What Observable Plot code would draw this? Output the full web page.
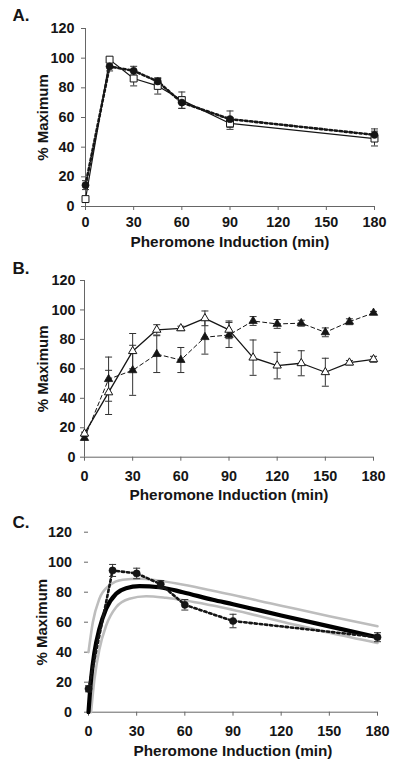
<!DOCTYPE html>
<html><head><meta charset="utf-8">
<script src="https://cdn.jsdelivr.net/npm/d3@7"></script>
<script src="https://cdn.jsdelivr.net/npm/@observablehq/plot@0.6"></script>
<style>
html,body{margin:0;padding:0;background:#fff;}
#chart{width:400px;height:767px;overflow:hidden;}
#chart svg{display:block;}
</style></head><body><div id="chart"></div>
<script>
const xTicks = [0, 30, 60, 90, 120, 150, 180];
const yTicks = [0, 20, 40, 60, 80, 100, 120];
const xTitle = "Pheromone Induction (min)";
const yTitle = "% Maximum";
const panelLabels = ["A.", "B.", "C."];

// Panel A
const timeA = [0, 15, 30, 45, 60, 90, 180];
const squareA = [5, 99, 86.3, 81.3, 71.7, 56, 45.8];
const squareErrA = [0, 0, 5, 5.5, 5.5, 4, 5];
const circleA = [14.4, 94.4, 91.5, 84.3, 70.1, 58.9, 48.3];
const circleErrA = [3, 3, 3, 2, 4, 5.5, 4];

// Panel B
const timeB = [0, 15, 30, 45, 60, 75, 90, 105, 120, 135, 150, 165, 180];
const openTriB = [16, 44, 72, 86.5, 87.5, 94.3, 86.5, 67.6, 62.2, 63.8, 57.7, 64.2, 66.5];
const openTriErrB = [1, 15, 12, 3.5, 1.5, 5, 6, 12, 9, 8.5, 9.5, 1.5, 2];
const filledTriB = [13, 53, 59, 70, 66, 81.5, 83, 92.5, 90.5, 91, 84.8, 92, 98];
const filledTriErrB = [1, 15, 17, 12.5, 8.5, 11.5, 8.5, 3, 3, 2, 3, 2, 1];

// Panel C
const timeC = [0, 15, 30, 45, 60, 90, 180];
const circleC = [15.6, 94.5, 92.5, 85.3, 71.6, 60.8, 50];
const circleErrC = [2, 4, 3.5, 2.5, 3.5, 4.5, 3];
const fitTimeC = [0, 1.6, 3.7, 6.8, 11, 17.2, 23.4, 31.7, 44.2, 58.7, 77.4, 90, 120, 150, 180];
const fitC = [0, 22, 40, 55.6, 69, 79, 82.7, 84, 83.3, 80, 75, 72, 64.5, 57.2, 50];
const upperTimeC = [0, 2.7, 6.8, 13, 21.4, 31.7, 44.2, 77.4, 120, 150, 180];
const upperC = [40, 60, 75.6, 84.5, 88.3, 89, 87.6, 81, 71, 64, 57.3];
const lowerTimeC = [1.6, 3.7, 6.8, 11, 17.2, 25.5, 35.9, 48.3, 77.4, 120, 150, 180];
const lowerC = [0, 22, 42, 57.8, 70, 75.6, 77.3, 76.3, 71.1, 60.5, 53, 46.2];

const rows = (xs, ys, es) => xs.map((x, i) => ({x, y: ys[i], e: es ? es[i] : 0}));
const cap = {draw(ctx) { ctx.moveTo(-3.5, 0); ctx.lineTo(3.5, 0); }};
const INK = "#151515";
const FONT = 'Arial, "Liberation Sans", sans-serif';
const TICKFONT = 14.4;

function errorMarks(data) {
  const d = data.filter(r => r.e > 0);
  return [
    Plot.ruleX(d, {x: "x", y1: r => r.y - r.e, y2: r => r.y + r.e, stroke: "#333", strokeWidth: 1}),
    Plot.dot(d, {x: "x", y: r => r.y - r.e, symbol: cap, stroke: "#333", strokeWidth: 1, fill: "none"}),
    Plot.dot(d, {x: "x", y: r => r.y + r.e, symbol: cap, stroke: "#333", strokeWidth: 1, fill: "none"})
  ];
}

function panel(p, marks) {
  return Plot.plot({
    width: 400, height: p.h,
    marginLeft: p.mL, marginRight: p.mR, marginTop: p.mT, marginBottom: p.mB,
    x: {domain: [0, 180], axis: null},
    y: {domain: [0, 120], axis: null},
    style: {fontFamily: FONT, fontWeight: "bold", color: INK, background: "#fff"},
    marks: [
      Plot.axisX(xTicks, {tickSize: 4, tickFormat: () => "", stroke: "#666", label: null}),
      Plot.axisY(yTicks, {tickSize: 4, tickFormat: () => "", stroke: "#666", label: null}),
      Plot.text(xTicks, {x: d => d, text: d => String(d), frameAnchor: "bottom", dy: p.xLabDy, lineAnchor: "middle", textAnchor: "middle", fill: INK, fontSize: TICKFONT, fontWeight: "bold"}),
      Plot.text(yTicks, {y: d => d, text: d => String(d), frameAnchor: "left", dx: -p.yLabGap, lineAnchor: "middle", textAnchor: "end", fill: INK, fontSize: TICKFONT, fontWeight: "bold"}),
      Plot.ruleY([0], {stroke: "#666", strokeWidth: 1}),
      p.yLine ? Plot.ruleX([0], {stroke: "#666", strokeWidth: 1}) : null,
      Plot.text([xTitle], {text: d => d, frameAnchor: "bottom", dy: p.xTitleDy, lineAnchor: "middle", fill: INK, fontSize: 15.3, fontWeight: "bold"}),
      Plot.text([yTitle], {text: d => d, frameAnchor: "left", dx: p.yTitleX - p.mL, rotate: -90, lineAnchor: "middle", textAnchor: "middle", fill: INK, fontSize: 15, fontWeight: "bold"}),
      Plot.text([p.label], {text: d => d, frameAnchor: "top-left", dx: 12 - p.mL, dy: p.labelY - p.mT, textAnchor: "start", lineAnchor: "middle", fill: INK, fontSize: 17, fontWeight: "bold"}),
      ...marks
    ]
  });
}

const root = document.getElementById("chart");

// A
const sqA = rows(timeA, squareA, squareErrA);
const ciA = rows(timeA, circleA, circleErrA);
root.append(panel(
  {h: 255, mL: 85, mR: 26, mT: 28, mB: 49, xLabDy: 16, yLabGap: 11, xTitleDy: 36, yTitleX: 43, labelY: 15, label: panelLabels[0], yLine: true},
  [
    Plot.line(sqA, {x: "x", y: "y", stroke: INK, strokeWidth: 1.2}),
    Plot.line(ciA, {x: "x", y: "y", stroke: INK, strokeWidth: 2.6, strokeDasharray: "2.4,2.6"}),
    ...errorMarks(sqA),
    ...errorMarks(ciA),
    Plot.dot(sqA, {x: "x", y: "y", symbol: "square", r: 3.9, fill: "#fff", stroke: INK, strokeWidth: 1}),
    Plot.dot(ciA, {x: "x", y: "y", symbol: "circle", r: 3.6, fill: INK, stroke: INK, strokeWidth: 0.5})
  ]
));

// B
const opB = rows(timeB, openTriB, openTriErrB);
const flB = rows(timeB, filledTriB, filledTriErrB);
root.append(panel(
  {h: 255, mL: 84, mR: 27, mT: 25, mB: 53.3, xLabDy: 19.5, yLabGap: 9, xTitleDy: 37.6, yTitleX: 43, labelY: 13, label: panelLabels[1], yLine: true},
  [
    Plot.line(flB, {x: "x", y: "y", stroke: INK, strokeWidth: 1, strokeDasharray: "4,3"}),
    Plot.line(opB, {x: "x", y: "y", stroke: INK, strokeWidth: 1.3}),
    ...errorMarks(flB),
    ...errorMarks(opB),
    Plot.dot(flB, {x: "x", y: "y", symbol: "triangle", r: 3.1, fill: INK, stroke: INK, strokeWidth: 0.8}),
    Plot.dot(opB, {x: "x", y: "y", symbol: "triangle", r: 3.1, fill: "#fff", stroke: INK, strokeWidth: 1})
  ]
));

// C
const ciC = rows(timeC, circleC, circleErrC);
const fit = rows(fitTimeC, fitC);
const up = rows(upperTimeC, upperC);
const lo = rows(lowerTimeC, lowerC);
root.append(panel(
  {h: 257, mL: 88, mR: 23, mT: 21.7, mB: 55.3, xLabDy: 19.6, yLabGap: 16.5, xTitleDy: 39, yTitleX: 42, labelY: 12, label: panelLabels[2], yLine: false},
  [
    Plot.line(up, {x: "x", y: "y", stroke: "#bdbdbd", strokeWidth: 2.6, curve: "monotone-x"}),
    Plot.line(lo, {x: "x", y: "y", stroke: "#bdbdbd", strokeWidth: 2.6, curve: "monotone-x"}),
    Plot.line(fit, {x: "x", y: "y", stroke: "#000", strokeWidth: 4.2, curve: "monotone-x"}),
    Plot.line(ciC, {x: "x", y: "y", stroke: INK, strokeWidth: 2.6, strokeDasharray: "2.4,2.8"}),
    ...errorMarks(ciC),
    Plot.dot(ciC, {x: "x", y: "y", symbol: "circle", r: 3.6, fill: INK, stroke: INK, strokeWidth: 0.5})
  ]
));
</script></body></html>
